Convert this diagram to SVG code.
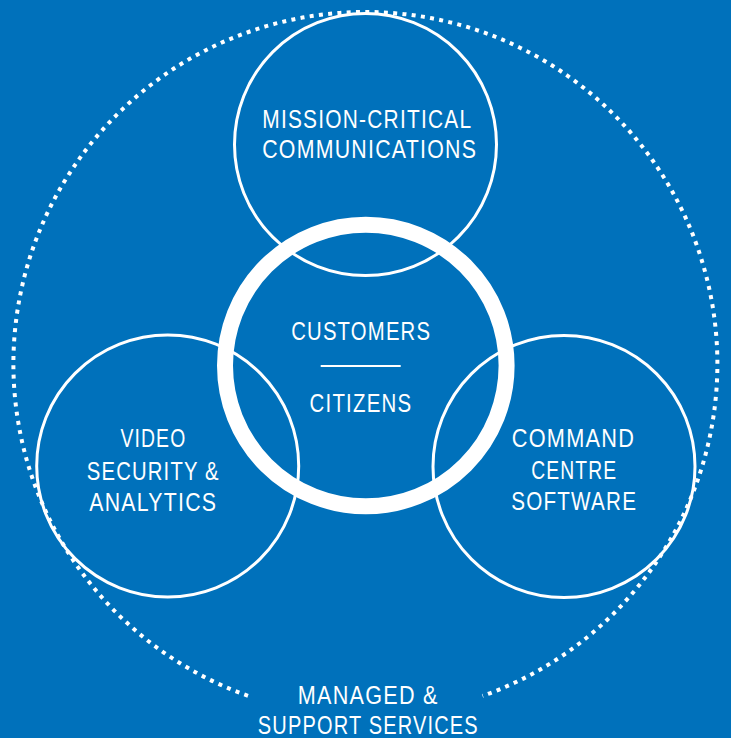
<svg xmlns="http://www.w3.org/2000/svg" width="731" height="738" viewBox="0 0 731 738">
<style>
.bg{fill:#0071bb}
.ring{fill:none;stroke:#fff;stroke-width:3}
.core{fill:none;stroke:#fff;stroke-width:16}
.dots{fill:none;stroke:#fff;stroke-width:4;stroke-dasharray:4 5.3}
.lbl{fill:#fff;font-family:"Liberation Sans Narrow","Liberation Sans",Arial,sans-serif;font-size:25.5px;letter-spacing:1.5px;text-anchor:middle}
</style>
<rect class="bg" x="0" y="0" width="731" height="738"/>
<g id="managed-support-services">
<path class="dots" d="M 248 695.8 A 352 352 0 1 1 482.5 695.9"/>
<text class="lbl" x="368.3" y="704.3" textLength="141" lengthAdjust="spacingAndGlyphs">MANAGED &amp;</text>
<text class="lbl" x="368.3" y="734.3" textLength="221" lengthAdjust="spacingAndGlyphs">SUPPORT SERVICES</text>
</g>
<g id="mission-critical-communications">
<circle class="ring" cx="365.5" cy="144.5" r="131"/>
<text class="lbl" x="367.3" y="128.3" textLength="210" lengthAdjust="spacingAndGlyphs">MISSION-CRITICAL</text>
<text class="lbl" x="369.7" y="158.3" textLength="215" lengthAdjust="spacingAndGlyphs">COMMUNICATIONS</text>
</g>
<g id="video-security-analytics">
<circle class="ring" cx="167.7" cy="466" r="131"/>
<text class="lbl" x="153.4" y="447" textLength="66" lengthAdjust="spacingAndGlyphs">VIDEO</text>
<text class="lbl" x="153.3" y="480" textLength="133" lengthAdjust="spacingAndGlyphs">SECURITY &amp;</text>
<text class="lbl" x="153.3" y="510.7" textLength="128" lengthAdjust="spacingAndGlyphs">ANALYTICS</text>
</g>
<g id="command-centre-software">
<circle class="ring" cx="564" cy="466.5" r="131"/>
<text class="lbl" x="573.5" y="446.7" textLength="123.6" lengthAdjust="spacingAndGlyphs">COMMAND</text>
<text class="lbl" x="574.2" y="479.3" textLength="86" lengthAdjust="spacingAndGlyphs">CENTRE</text>
<text class="lbl" x="574.2" y="510" textLength="126" lengthAdjust="spacingAndGlyphs">SOFTWARE</text>
</g>
<g id="customers-citizens">
<circle class="core" cx="365.8" cy="365.5" r="140.8"/>
<text class="lbl" x="361.2" y="340" textLength="140" lengthAdjust="spacingAndGlyphs">CUSTOMERS</text>
<line x1="320.7" y1="366" x2="400.7" y2="366" stroke="#fff" stroke-width="2"/>
<text class="lbl" x="360.9" y="411.7" textLength="102.7" lengthAdjust="spacingAndGlyphs">CITIZENS</text>
</g>
<g id="connectors"/>
</svg>
